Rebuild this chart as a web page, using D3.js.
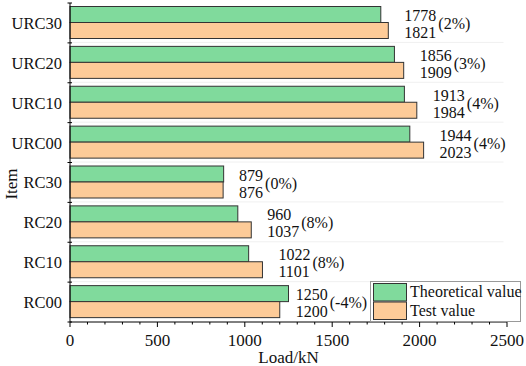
<!DOCTYPE html>
<html>
<head>
<meta charset="utf-8">
<script src="https://cdn.jsdelivr.net/npm/d3@7"></script>
<style>
  body { margin: 0; background: #fff; }
</style>
</head>
<body>
<div class="chart"></div>
<script>
// données
let items = ["URC30", "URC20", "URC10", "URC00", "RC30", "RC20", "RC10", "RC00"];
let theoretical = [1778, 1856, 1913, 1944, 879, 960, 1022, 1250];
let test = [1821, 1909, 1984, 2023, 876, 1037, 1101, 1200];
let diffs = ["(2%)", "(3%)", "(4%)", "(4%)", "(0%)", "(8%)", "(8%)", "(-4%)"];
let xTicks = [0, 500, 1000, 1500, 2000, 2500];
let seriesNames = ["Theoretical value", "Test value"];
let colors = ["#80da9c", "#fdcb98"];

let width = 526, height = 366;
let margin = { left: 70, right: 19, top: 3, bottom: 44 };
let serif = "Liberation Serif";

let svg = d3.select(".chart").append("svg")
    .attr("width", width)
    .attr("height", height);

let x = d3.scaleLinear()
    .domain([0, 2500])
    .range([margin.left, width - margin.right]);

let y = d3.scaleBand()
    .domain(items)
    .range([margin.top, height - margin.bottom]);

// lignes de grille très pâles
svg.append("g")
    .selectAll("line")
    .data(items.slice(1))
    .join("line")
    .attr("x1", x(0))
    .attr("x2", x(2480))
    .attr("y1", d => y(d) - 0.5)
    .attr("y2", d => y(d) - 0.5)
    .attr("stroke", "#f0f0f0");

// barres
let bh = 16;
let groups = svg.append("g")
    .selectAll("g")
    .data(items)
    .join("g");

groups.append("rect")
    .attr("x", x(0))
    .attr("y", d => y(d) + 3.5)
    .attr("width", (d, i) => x(theoretical[i]) - x(0))
    .attr("height", bh)
    .attr("fill", colors[0])
    .attr("stroke", "#333");

groups.append("rect")
    .attr("x", x(0))
    .attr("y", d => y(d) + 3.5 + bh)
    .attr("width", (d, i) => x(test[i]) - x(0))
    .attr("height", bh)
    .attr("fill", colors[1])
    .attr("stroke", "#333");

// étiquettes de valeurs
groups.each(function (d, i) {
    let g = d3.select(this);
    let lx = x(test[i]) + 16;
    let t1 = g.append("text")
        .attr("x", lx)
        .attr("y", y(d) + 18)
        .attr("font-family", serif)
        .attr("font-size", 16)
        .attr("fill", "#111")
        .text(theoretical[i]);
    let t2 = g.append("text")
        .attr("x", lx)
        .attr("y", y(d) + 35)
        .attr("font-family", serif)
        .attr("font-size", 16)
        .attr("fill", "#111")
        .text(test[i]);
    let w = Math.max(t1.node().getComputedTextLength(), t2.node().getComputedTextLength());
    g.append("text")
        .attr("x", lx + w + 2)
        .attr("y", y(d) + 26)
        .attr("font-family", serif)
        .attr("font-size", 16)
        .attr("fill", "#111")
        .text(diffs[i]);
});

// axe x
let xAxis = svg.append("g")
    .attr("transform", "translate(0," + (height - margin.bottom) + ")");
xAxis.append("line")
    .attr("x1", x(0)).attr("x2", x(2500))
    .attr("stroke", "#000");
xAxis.selectAll(".minor")
    .data(d3.range(0, 2501, 100))
    .join("line")
    .attr("x1", d => x(d)).attr("x2", d => x(d))
    .attr("y1", 0).attr("y2", d => d % 500 === 0 ? 5 : 2.5)
    .attr("stroke", "#000");
xAxis.selectAll("text")
    .data(xTicks)
    .join("text")
    .attr("x", d => x(d))
    .attr("y", 24)
    .attr("text-anchor", "middle")
    .attr("font-family", serif)
    .attr("font-size", 17)
    .attr("fill", "#111")
    .text(d => d);

// axe y
let yAxis = svg.append("g");
yAxis.append("line")
    .attr("x1", x(0)).attr("x2", x(0))
    .attr("y1", margin.top).attr("y2", height - margin.bottom)
    .attr("stroke", "#000");
yAxis.selectAll(".tick")
    .data(items.concat(["_end"]))
    .join("line")
    .attr("x1", x(0) - 2.5).attr("x2", x(0) + 2)
    .attr("y1", (d, i) => margin.top + i * y.bandwidth())
    .attr("y2", (d, i) => margin.top + i * y.bandwidth())
    .attr("stroke", "#000");
yAxis.selectAll("text")
    .data(items)
    .join("text")
    .attr("x", x(0) - 8)
    .attr("y", d => y(d) + y.bandwidth() / 2 + 6)
    .attr("text-anchor", "end")
    .attr("font-family", serif)
    .attr("font-size", 16.5)
    .attr("fill", "#111")
    .text(d => d);

// titres des axes
svg.append("text")
    .attr("x", (x(0) + x(2500)) / 2)
    .attr("y", height - 3)
    .attr("text-anchor", "middle")
    .attr("font-family", serif)
    .attr("font-size", 17)
    .attr("fill", "#111")
    .text("Load/kN");

svg.append("text")
    .attr("transform", "translate(17,184) rotate(-90)")
    .attr("text-anchor", "middle")
    .attr("font-family", serif)
    .attr("font-size", 17)
    .attr("fill", "#111")
    .text("Item");

// légende
let legend = svg.append("g");
legend.append("rect")
    .attr("x", 370.5).attr("y", 281.5)
    .attr("width", 150).attr("height", 40)
    .attr("fill", "#fff")
    .attr("stroke", "#999");
legend.selectAll(".sw")
    .data(seriesNames)
    .join("rect")
    .attr("x", 373.5)
    .attr("y", (d, i) => 283.5 + i * 18.5)
    .attr("width", 33)
    .attr("height", 17.5)
    .attr("fill", (d, i) => colors[i])
    .attr("stroke", "#333");
legend.selectAll("text")
    .data(seriesNames)
    .join("text")
    .attr("x", 410)
    .attr("y", (d, i) => 297 + i * 19)
    .attr("font-family", serif)
    .attr("font-size", 16)
    .attr("fill", "#111")
    .text(d => d);
</script>
</body>
</html>
